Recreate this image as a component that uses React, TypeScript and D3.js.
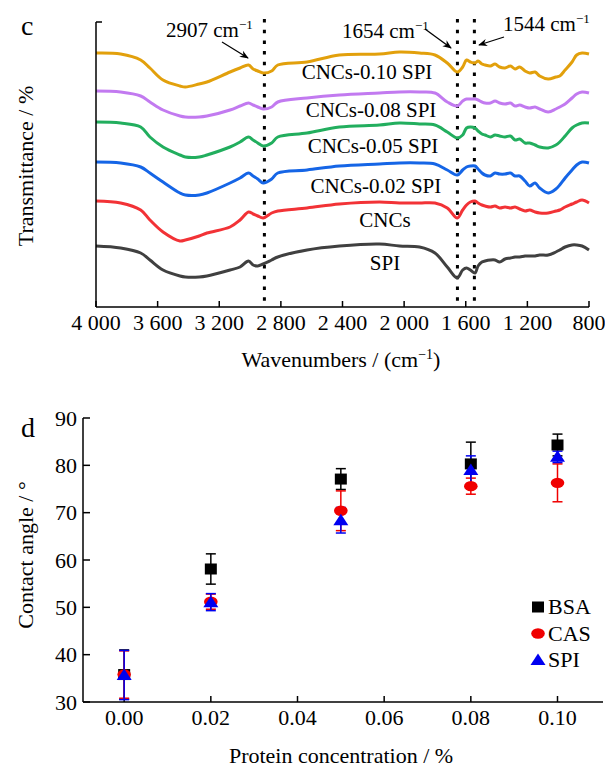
import * as d3 from "d3";

// ---- panel c: FTIR spectra (transmittance, stacked a.u.) ----
const wavenumbers = [4000, 3840, 3710, 3650, 3565, 3455, 3420, 3330, 3280, 3130, 3065, 3010, 2980, 2950, 2915, 2860, 2820, 2630, 2420, 2160, 2030, 1900, 1800, 1720, 1655, 1620, 1595, 1570, 1540, 1520, 1495, 1475, 1440, 1410, 1380, 1345, 1310, 1280, 1250, 1215, 1185, 1150, 1120, 1065, 1015, 990, 955, 910, 880, 845, 800];

const tCNCs010 = [254, 253, 247, 239, 227, 221, 220, 223, 225, 235, 239, 242, 238, 236, 234, 236, 242, 245, 252, 253, 255, 254, 252, 244, 235, 240, 247, 245, 244, 246, 243, 242, 241, 243, 240, 239, 241, 238, 240, 236, 234, 235, 231, 228, 230, 231, 237, 245, 252, 254, 253];
const tCNCs008 = [216, 215, 211, 205, 197, 191, 190, 190, 191, 197, 201, 204, 202, 200, 198, 200, 205, 209, 212, 214, 215, 215, 214, 205, 201, 206, 208, 208, 208, 207, 205, 204, 204, 206, 204, 203, 204, 201, 202, 200, 199, 200, 198, 195, 198, 200, 203, 209, 213, 215, 214];
const tCNCs005 = [185, 184, 180, 170, 160, 152, 150, 150, 152, 160, 165, 170, 167, 164, 161, 164, 170, 174, 180, 182, 184, 183, 182, 175, 169, 172, 179, 180, 179, 176, 173, 172, 170, 172, 171, 170, 171, 167, 168, 164, 164, 162, 160, 159, 162, 165, 171, 179, 182, 184, 184];
const tCNCs002 = [145, 144, 140, 134, 125, 114, 112, 112, 114, 124, 129, 134, 131, 128, 124, 128, 134, 137, 141, 143, 144, 144, 143, 137, 132, 137, 140, 141, 141, 138, 134, 132, 131, 134, 133, 133, 134, 131, 131, 126, 121, 124, 119, 114, 118, 122, 129, 137, 142, 145, 144];
const tCNCs = [106, 104, 97, 87, 75, 66, 67, 71, 74, 80, 87, 95, 93, 91, 89, 94, 96, 99, 103, 105, 104, 104, 104, 99, 89, 97, 102, 105, 106, 104, 102, 101, 100, 101, 99, 100, 99, 100, 98, 96, 97, 95, 94, 94, 96, 97, 100, 103, 105, 107, 104];
const tSPI = [61, 59, 54, 47, 37, 31, 30, 30, 31, 37, 40, 46, 42, 41, 43, 47, 50, 57, 61, 63, 61, 60, 54, 40, 29, 37, 39, 37, 34, 41, 45, 46, 47, 47, 45, 48, 49, 50, 50, 51, 51, 51, 52, 52, 55, 57, 60, 62, 62, 61, 57];

const spectraNames = ["CNCs-0.10 SPI", "CNCs-0.08 SPI", "CNCs-0.05 SPI", "CNCs-0.02 SPI", "CNCs", "SPI"];
const spectraColors = ["#E2A00C", "#C27AF0", "#22AE5E", "#1565E6", "#F23236", "#404040"];
// label anchors in data units [wavenumber, transmittance]
const labelAnchors: [number, number][] = [[2241, 228], [2215, 190], [2202, 154], [2183, 114], [2124, 80], [2124, 37]];

const xTicksC = [4000, 3600, 3200, 2800, 2400, 2000, 1600, 1200, 800];
const markedBands = [2907, 1654, 1544];

// ---- panel d: contact angle ----
const concentrations = [0, 0.02, 0.05, 0.08, 0.1];
const bsaMean = [35.8, 58.1, 77.1, 80.3, 84.3];
const bsaErr = [5.2, 3.2, 2.2, 4.6, 2.3];
const casMean = [35.8, 51.2, 70.4, 75.6, 76.3];
const casErr = [5.0, 1.6, 4.2, 1.7, 4.0];
const spiMean = [35.7, 51.1, 68.4, 79.0, 81.8];
const spiErr = [5.2, 1.8, 2.7, 3.0, 1.2];
const xTicksD = [0, 0.02, 0.04, 0.06, 0.08, 0.1];
const yTicksD = [30, 40, 50, 60, 70, 80, 90];

const FONT = "'Liberation Serif', 'Times New Roman', serif";

const fmtWn = (v: number) => (v >= 1000 ? `${Math.floor(v / 1000)} ${String(v % 1000).padStart(3, "0")}` : String(v));

function Marker({ kind, x, y, color }: { kind: string; x: number; y: number; color: string }) {
  if (kind === "square") return <rect x={x - 6} y={y - 5.5} width={12} height={11} fill={color} />;
  if (kind === "circle") return <ellipse cx={x} cy={y} rx={6.8} ry={5.2} fill={color} />;
  return <path d={`M${x},${y - 6.5}L${x + 7.5},${y + 5}L${x - 7.5},${y + 5}Z`} fill={color} />;
}

export default function App() {
  // panel c scales
  const xc = d3.scaleLinear().domain([4000, 800]).range([96, 589]);
  const yc = d3.scaleLinear().domain([0, 285]).range([307, 22]);
  const line = d3
    .line<number>()
    .x((_, i) => xc(wavenumbers[i]))
    .y((d) => yc(d))
    .curve(d3.curveCatmullRom.alpha(0.5));
  const spectra = [tCNCs010, tCNCs008, tCNCs005, tCNCs002, tCNCs, tSPI];

  // panel d scales
  const xd = d3.scaleLinear().domain([-0.0095, 0.1105]).range([83, 603]);
  const yd = d3.scaleLinear().domain([30, 90]).range([702, 418]);
  const groups = [
    { name: "BSA", mean: bsaMean, err: bsaErr, color: "#000000", kind: "square" },
    { name: "CAS", mean: casMean, err: casErr, color: "#F00000", kind: "circle" },
    { name: "SPI", mean: spiMean, err: spiErr, color: "#0000F0", kind: "triangle" },
  ];

  const sup = (base: string) => (
    <>
      {base}
      <tspan dy={-8} fontSize={13}>−1</tspan>
    </>
  );

  return (
    <svg width={605} height={767} style={{ position: "absolute", left: 0, top: 0, background: "#fff" }} fontFamily={FONT}>
      <defs>
        <marker id="arr" viewBox="0 0 10 10" refX={9} refY={5} markerWidth={9} markerHeight={9} orient="auto" markerUnits="userSpaceOnUse">
          <path d="M0,1 L10,5 L0,9 L3,5 Z" fill="#000" />
        </marker>
      </defs>

      {/* ===== panel c ===== */}
      <text x={21} y={35} fontSize={28}>c</text>

      {/* dotted band markers */}
      {markedBands.map((b) => (
        <line key={b} x1={xc(b)} x2={xc(b)} y1={19} y2={307} stroke="#000" strokeWidth={3} strokeDasharray="3.5 7.2" />
      ))}

      {spectra.map((s, i) => (
        <path key={i} d={line(s) || ""} fill="none" stroke={spectraColors[i]} strokeWidth={3} strokeLinejoin="round" />
      ))}

      {spectraNames.map((n, i) => (
        <text key={n} x={xc(labelAnchors[i][0])} y={yc(labelAnchors[i][1])} fontSize={21} textAnchor="middle">{n}</text>
      ))}

      {/* axes */}
      <line x1={96} x2={96} y1={22} y2={307} stroke="#000" strokeWidth={1.5} />
      <line x1={96} x2={102} y1={22} y2={22} stroke="#000" strokeWidth={1.5} />
      <line x1={96} x2={589} y1={307} y2={307} stroke="#000" strokeWidth={1.5} />
      {xTicksC.map((t) => (
        <g key={t}>
          <line x1={xc(t)} x2={xc(t)} y1={307} y2={301} stroke="#000" strokeWidth={1.5} />
          <text x={xc(t)} y={330} fontSize={22} textAnchor="middle">{fmtWn(t)}</text>
        </g>
      ))}
      <text x={341} y={367} fontSize={22} textAnchor="middle">Wavenumbers / (cm<tspan dy={-8} fontSize={14}>−1</tspan><tspan dy={8}>)</tspan></text>
      <text transform="translate(33,166) rotate(-90)" fontSize={22} textAnchor="middle">Transmittance / %</text>

      {/* annotations */}
      <text x={166} y={37} fontSize={21}>{sup("2907 cm")}</text>
      <line x1={222} y1={42} x2={248} y2={58} stroke="#000" strokeWidth={1.3} markerEnd="url(#arr)" />
      <text x={342} y={38} fontSize={21}>{sup("1654 cm")}</text>
      <line x1={425} y1={29} x2={451} y2={48} stroke="#000" strokeWidth={1.3} markerEnd="url(#arr)" />
      <text x={503} y={31} fontSize={21}>{sup("1544 cm")}</text>
      <line x1={504} y1={37} x2={479} y2={45} stroke="#000" strokeWidth={1.3} markerEnd="url(#arr)" />

      {/* ===== panel d ===== */}
      <text x={21} y={437} fontSize={28}>d</text>

      <line x1={83} x2={83} y1={yd(90)} y2={yd(30)} stroke="#000" strokeWidth={1.5} />
      <line x1={83} x2={603} y1={yd(30)} y2={yd(30)} stroke="#000" strokeWidth={1.5} />
      {yTicksD.map((t) => (
        <g key={t}>
          <line x1={83} x2={90} y1={yd(t)} y2={yd(t)} stroke="#000" strokeWidth={1.5} />
          <text x={77} y={yd(t)} dy="0.35em" fontSize={22} textAnchor="end">{t}</text>
        </g>
      ))}
      {xTicksD.map((t) => (
        <g key={t}>
          <line x1={xd(t)} x2={xd(t)} y1={yd(30)} y2={yd(30) - 6} stroke="#000" strokeWidth={1.5} />
          <text x={xd(t)} y={725} fontSize={22} textAnchor="middle">{t.toFixed(2)}</text>
        </g>
      ))}
      <text x={341} y={763} fontSize={22} textAnchor="middle">Protein concentration / %</text>
      <text transform="translate(33,555) rotate(-90)" fontSize={22} textAnchor="middle">Contact angle / °</text>

      {groups.map((g) => (
        <g key={g.name}>
          {concentrations.map((c, i) => {
            const x = xd(c);
            const y1 = yd(g.mean[i] + g.err[i]);
            const y2 = yd(g.mean[i] - g.err[i]);
            return (
              <g key={i} stroke={g.color} strokeWidth={1.5}>
                <line x1={x} x2={x} y1={y1} y2={y2} />
                <line x1={x - 5} x2={x + 5} y1={y1} y2={y1} />
                <line x1={x - 5} x2={x + 5} y1={y2} y2={y2} />
              </g>
            );
          })}
        </g>
      ))}
      {groups.map((g) => (
        <g key={g.name + "m"}>
          {concentrations.map((c, i) => (
            <Marker key={i} kind={g.kind} x={xd(c)} y={yd(g.mean[i])} color={g.color} />
          ))}
        </g>
      ))}

      {/* legend */}
      {groups.map((g, i) => (
        <g key={g.name + "l"}>
          <Marker kind={g.kind} x={538} y={607 + i * 26.5} color={g.color} />
          <text x={548} y={614 + i * 26.5} fontSize={22}>{g.name}</text>
        </g>
      ))}
    </svg>
  );
}
